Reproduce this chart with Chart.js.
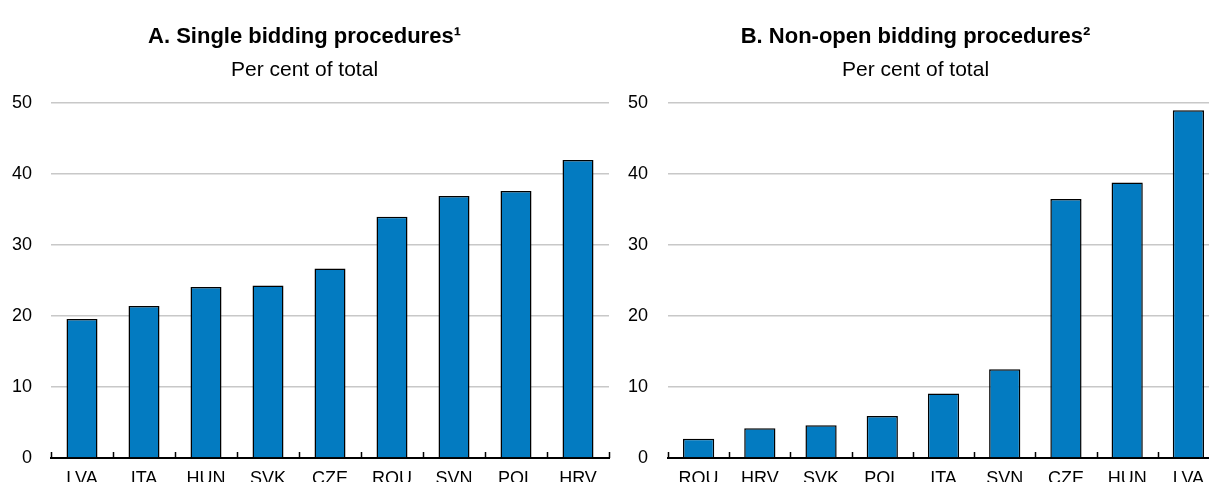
<!DOCTYPE html>
<html>
<head>
<meta charset="utf-8">
<script src="https://cdn.jsdelivr.net/npm/chart.js@4/dist/chart.umd.min.js"></script>
<style>
    html, body { margin: 0; padding: 0; background: #fff; overflow: hidden; }
    body { width: 1209px; height: 482px; position: relative; }
    canvas { position: absolute; top: 0; }
    #chartA { left: 0; }
    #chartB { left: 612px; }
</style>
</head>
<body>
<canvas id="chartA" width="654" height="482"></canvas>
<canvas id="chartB" width="688" height="482"></canvas>
<script>
(function () {
    'use strict';

    var singleLabels = ['LVA', 'ITA', 'HUN', 'SVK', 'CZE', 'ROU', 'SVN', 'POL', 'HRV'];
    var singleValues = [19.6, 21.4, 24.1, 24.3, 26.7, 34.0, 36.9, 37.6, 42.0];

    var nonOpenLabels = ['ROU', 'HRV', 'SVK', 'POL', 'ITA', 'SVN', 'CZE', 'HUN', 'LVA'];
    var nonOpenValues = [2.7, 4.2, 4.6, 5.9, 9.1, 12.5, 36.5, 38.8, 49.0];

    var yTicks = [0, 10, 20, 30, 40, 50];

    var FONT = "'Liberation Sans Narrow', 'Arial Narrow', 'Liberation Sans', Arial, sans-serif";
    var BLUE = '#037bc1';

    Chart.defaults.font.family = FONT;
    Chart.defaults.color = '#000';

    // small upward tick marks at the category boundaries
    var boundaryTicks = {
        id: 'boundaryTicks',
        afterDraw: function (chart) {
            var x = chart.scales.x;
            var ctx = chart.ctx;
            var n = chart.data.labels.length;
            var step = (x.right - x.left) / n;

            ctx.save();
            ctx.strokeStyle = '#000';
            ctx.lineWidth = 1.5;
            ctx.beginPath();
            for (var i = 0; i <= n; i++) {
                var px = Math.round(x.left + i * step) + 0.5;
                ctx.moveTo(px, x.top);
                ctx.lineTo(px, x.top - 6);
            }
            ctx.stroke();
            ctx.restore();
        }
    };

    function makeChart(canvasId, labels, values, title, opts) {
        return new Chart(document.getElementById(canvasId), {
            type: 'bar',
            data: {
                labels: labels,
                datasets: [{
                    data: values,
                    backgroundColor: BLUE,
                    borderColor: '#000',
                    borderWidth: 1.5,
                    borderSkipped: 'bottom',
                    categoryPercentage: 1,
                    barPercentage: opts.barPct
                }]
            },
            options: {
                responsive: false,
                animation: false,
                layout: { padding: { left: 0, right: opts.padRight, top: 0, bottom: 0 } },
                plugins: {
                    legend: { display: false },
                    tooltip: { enabled: false },
                    title: {
                        display: true,
                        text: title,
                        font: { size: 22, weight: 'bold' },
                        padding: { top: 24, bottom: 7 }
                    },
                    subtitle: {
                        display: true,
                        text: 'Per cent of total',
                        font: { size: 21 },
                        padding: { top: 0, bottom: 20.5 }
                    }
                },
                scales: {
                    x: {
                        grid: { display: false },
                        border: { display: true, color: '#000', width: 2 },
                        ticks: { font: { size: 18 }, padding: 2, maxRotation: 0 },
                        afterFit: function (scale) { scale.height = 24; }
                    },
                    y: {
                        min: 0,
                        max: 50,
                        afterBuildTicks: function (scale) {
                            scale.ticks = yTicks.map(function (v) { return { value: v }; });
                        },
                        grid: {
                            color: function (c) { return c.tick.value === 0 ? 'rgba(0,0,0,0)' : '#c8c8c8'; },
                            lineWidth: 1.5,
                            drawTicks: false
                        },
                        border: { display: false },
                        ticks: { font: { size: 18 }, padding: opts.yPad },
                        afterFit: function (scale) {
                            scale.width = opts.yWidth;
                            scale.paddingTop = 0;
                            scale.paddingBottom = 0;
                        }
                    }
                }
            },
            plugins: [boundaryTicks]
        });
    }

    makeChart('chartA', singleLabels, singleValues, 'A. Single bidding procedures\u00b9',
        { barPct: 0.5, padRight: 45, yPad: 19, yWidth: 51 });
    makeChart('chartB', nonOpenLabels, nonOpenValues, 'B. Non-open bidding procedures\u00b2',
        { barPct: 0.51, padRight: 81, yPad: 20, yWidth: 56 });
})();
</script>
</body>
</html>
